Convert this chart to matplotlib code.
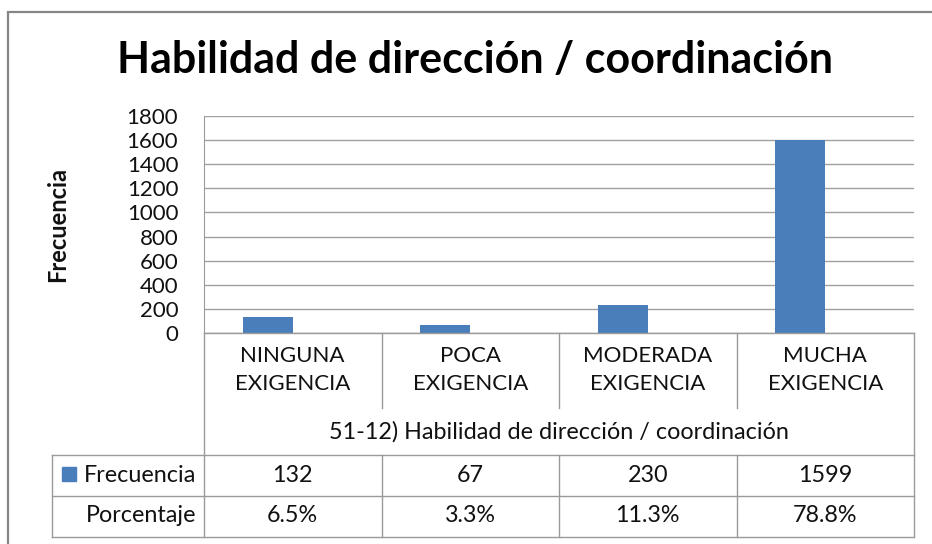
import matplotlib
matplotlib.use("Agg")
import matplotlib.pyplot as plt
from matplotlib.transforms import blended_transform_factory
from matplotlib.lines import Line2D
from matplotlib.patches import Rectangle

categories = ["NINGUNA\nEXIGENCIA", "POCA\nEXIGENCIA", "MODERADA\nEXIGENCIA", "MUCHA\nEXIGENCIA"]
frecuencia = [132, 67, 230, 1599]
porcentaje = [6.5, 3.3, 11.3, 78.8]
yticks = [0, 200, 400, 600, 800, 1000, 1200, 1400, 1600, 1800]
title = "Habilidad de dirección / coordinación"
axis_title = "51-12) Habilidad de dirección / coordinación"
ylabel = "Frecuencia"
series_names = ["Frecuencia", "Porcentaje"]

W, H = 932, 544
plt.rcParams['font.family'] = ['Lato', 'DejaVu Sans']
fig = plt.figure(figsize=(W / 100, H / 100), dpi=100)

def fx(px):
    return px / W

def fy(py):
    return 1 - py / H

TXT = "#111111"
# outer chart frame
fig.add_artist(Rectangle((fx(8), fy(600)), fx(1000), fy(12) - fy(600), transform=fig.transFigure,
                         fill=False, edgecolor="#868686", lw=1.6))

left, right, top, bottom = 204, 914, 116, 333
ax = fig.add_axes([fx(left), fy(bottom), fx(right - left), fy(top) - fy(bottom)])

n = len(categories)
x = list(range(n))
bw = 0.2817
BLUE = "#4A7EBB"
ax.bar([i - bw / 2 for i in x], frecuencia, width=bw, color=BLUE, zorder=3)
ax.bar([i + bw / 2 for i in x], [p / 100 for p in porcentaje], width=bw, color="#C0504D", zorder=3)

ax.set_xlim(-0.5, n - 0.5)
ax.set_ylim(0, 1800)
ax.set_yticks(yticks)
ax.set_yticklabels([str(t) for t in yticks], fontsize=16, color=TXT)
ax.set_xticks([])
ax.tick_params(axis="y", length=0, pad=18.5)
ax.yaxis.grid(True, color="#A0A0A0", lw=1)
ax.set_axisbelow(True)
for s in ["top", "right", "bottom"]:
    ax.spines[s].set_visible(False)
ax.spines["left"].set_color("#9A9A9A")

fig.text(fx(475), fy(60), title, fontsize=31, fontweight="bold", ha="center", va="center", color="black")
fig.text(fx(58), fy(225), ylabel, fontsize=17, fontweight="bold", rotation=90, ha="center", va="center", color=TXT)

LC = "#9A9A9A"
bt = blended_transform_factory(ax.transData, fig.transFigure)

def vline(xx, py0, py1, trans=bt):
    fig.add_artist(Line2D([xx, xx], [fy(py0), fy(py1)], transform=trans, color=LC, lw=1))

# table lines
fig.add_artist(Line2D([-0.5, n - 0.5], [fy(333), fy(333)], transform=bt, color=LC, lw=1))
vline(-0.5, 333, 537)
vline(n - 0.5, 333, 537)
for i in range(1, n):
    vline(i - 0.5, 333, 408)
    vline(i - 0.5, 455, 537)
for py in (455, 496, 537):
    fig.add_artist(Line2D([fx(52), fx(right)], [fy(py), fy(py)], transform=fig.transFigure, color=LC, lw=1))
fig.add_artist(Line2D([fx(52), fx(52)], [fy(455), fy(537)], transform=fig.transFigure, color=LC, lw=1))

# category labels
for i, c in enumerate(categories):
    fig.text(i, fy(370), c, transform=bt, ha="center", va="center", fontsize=16,
             color=TXT, linespacing=1.5)
fig.text((n - 1) / 2, fy(432), axis_title, transform=bt, ha="center", va="center", fontsize=16.8, color=TXT)

# data rows
for i in x:
    fig.text(i, fy(475), str(frecuencia[i]), transform=bt, ha="center", va="center", fontsize=16.8, color=TXT)
    fig.text(i, fy(516), f"{porcentaje[i]:.1f}%", transform=bt, ha="center", va="center", fontsize=16.8, color=TXT)

fig.add_artist(Rectangle((fx(62), fy(481)), fx(14), fy(467) - fy(481), transform=fig.transFigure,
                         color=BLUE))
fig.text(fx(196), fy(475), series_names[0], ha="right", va="center", fontsize=16.8, color=TXT)
fig.text(fx(196), fy(516), series_names[1], ha="right", va="center", fontsize=16.8, color=TXT)

fig.savefig("out.png", dpi=100)
